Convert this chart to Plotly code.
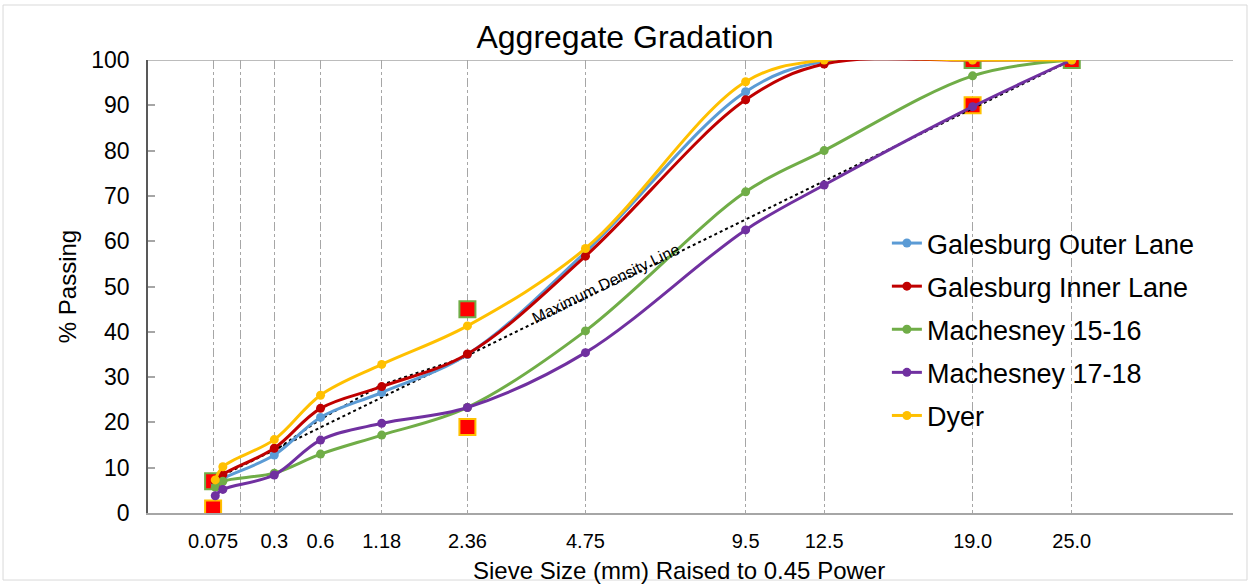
import plotly.graph_objects as go

# Sieve positions on the x axis (sieve size in mm raised to the 0.45 power)
sieve_labels = ["0.075", "", "0.3", "0.6", "1.18", "2.36", "4.75", "9.5", "12.5", "19.0", "25.0"]
sieve_x = [0.30, 0.428, 0.582, 0.795, 1.077, 1.472, 2.016, 2.754, 3.116, 3.80, 4.257]

# x positions of the gradation test points
data_x = [0.31, 0.345, 0.582, 0.795, 1.077, 1.472, 2.016, 2.754, 3.116, 3.80, 4.257]

galesburg_outer = [6.5, 7.6, 12.8, 21.1, 26.6, 35.0, 57.6, 93.0, 99.7, 100, 100]
galesburg_inner = [6.9, 8.5, 14.3, 23.1, 27.9, 35.1, 56.7, 91.2, 99.1, 100, 100]
machesney_15_16 = [5.7, 7.0, 8.8, 13.0, 17.2, 23.3, 40.2, 70.9, 80.0, 96.5, 100]
machesney_17_18 = [3.8, 5.2, 8.4, 16.1, 19.8, 23.3, 35.4, 62.5, 72.4, 89.7, 100]
dyer = [7.3, 10.2, 16.2, 26.0, 32.8, 41.3, 58.4, 95.2, 100, 100, 100]

# Control points (upper and lower limits)
ctrl_upper_x = [0.30, 1.472, 3.80, 4.257]
ctrl_upper_y = [7, 45, 100, 100]
ctrl_lower_x = [0.30, 1.472, 3.80]
ctrl_lower_y = [1, 19, 90]

# Maximum density line end points
mdl_x = [0.30, 4.257]
mdl_y = [7.3, 100]

# Upper boundary of the restricted zone
rz_x = [0.582, 0.795, 1.077, 1.472]
rz_upper = [13.7, 20.7, 28.3, 34.6]

series = [
    ("Galesburg Outer Lane", galesburg_outer, "#5B9BD5"),
    ("Galesburg Inner Lane", galesburg_inner, "#C00000"),
    ("Machesney 15-16", machesney_15_16, "#70AD47"),
    ("Machesney 17-18", machesney_17_18, "#7030A0"),
    ("Dyer", dyer, "#FFC000"),
]

FONT = "Liberation Sans, Arial, sans-serif"

fig = go.Figure()

# Control point squares sit underneath the gradation curves
fig.add_trace(go.Scatter(
    x=ctrl_upper_x, y=ctrl_upper_y, mode="markers", showlegend=False,
    marker=dict(symbol="square", size=16, color="#FF0000",
                line=dict(color="#70AD47", width=2)),
    hoverinfo="skip"))
fig.add_trace(go.Scatter(
    x=ctrl_lower_x, y=ctrl_lower_y, mode="markers", showlegend=False,
    marker=dict(symbol="square", size=16, color="#FF0000",
                line=dict(color="#FFC000", width=2)),
    hoverinfo="skip"))

# Maximum density line and restricted zone
fig.add_trace(go.Scatter(
    x=mdl_x, y=mdl_y, mode="lines", showlegend=False,
    line=dict(color="black", width=2, dash="dot"), hoverinfo="skip"))
fig.add_trace(go.Scatter(
    x=rz_x, y=rz_upper, mode="lines", showlegend=False,
    line=dict(color="black", width=2, dash="dot"), hoverinfo="skip"))

for i, (name, vals, color) in enumerate(series):
    fig.add_trace(go.Scatter(
        x=data_x, y=vals, name=name, mode="lines+markers",
        legendgroup=f"g{i}",
        line=dict(color=color, width=3, shape="spline", smoothing=1.0),
        marker=dict(color=color, size=9)))

fig.add_annotation(
    x=2.11, y=50.6, xref="x", yref="y", text="Maximum Density Line",
    showarrow=False, textangle=-26,
    font=dict(family=FONT, size=16, color="black"))

# x-axis title
fig.add_annotation(
    x=0.4894, y=-0.128, xref="paper", yref="paper",
    xanchor="center", yanchor="middle", showarrow=False,
    text="Sieve Size (mm) Raised to 0.45 Power",
    font=dict(family=FONT, size=24, color="black"))

# Chart frame and the top edge of the plot area
fig.add_shape(type="rect", xref="paper", yref="paper",
              x0=-0.1336, x1=1.0129, y0=-0.148, y1=1.1214,
              line=dict(color="#D9D9D9", width=1), layer="below")
fig.add_shape(type="line", xref="paper", yref="y", x0=0, x1=1, y0=100, y1=100,
              line=dict(color="#A6A6A6", width=1.5), layer="below")

fig.update_layout(
    width=1250, height=584, autosize=False,
    margin=dict(l=148, r=17, t=60, b=71),
    paper_bgcolor="white", plot_bgcolor="white",
    font=dict(family=FONT, color="black"),
    title=dict(text="Aggregate Gradation", x=0.5, xref="container", xanchor="center",
               y=1 - 37 / 584, yref="container", yanchor="middle",
               font=dict(family=FONT, size=32, color="black")),
    legend=dict(x=0.681, y=0.649, xanchor="left", yanchor="top",
                font=dict(family=FONT, size=27, color="black"),
                tracegroupgap=5, bgcolor="rgba(0,0,0,0)", traceorder="grouped",
                itemwidth=30),
    showlegend=True,
)

fig.update_xaxes(
    range=[0, 5], tickmode="array", tickvals=sieve_x, ticktext=sieve_labels,
    showgrid=True, gridcolor="#A6A6A6", griddash="dashdot", gridwidth=1,
    showline=True, linecolor="#A6A6A6", linewidth=1.5, ticks="",
    zeroline=False, tickfont=dict(family=FONT, size=20),
    ticklabelstandoff=9, automargin=False)

fig.update_yaxes(
    range=[0, 100], tickmode="linear", tick0=0, dtick=10,
    showgrid=False, zeroline=False,
    showline=True, linecolor="#595959", linewidth=1.5,
    ticks="inside", ticklen=7, tickcolor="#A6A6A6", tickwidth=1.5,
    tickfont=dict(family=FONT, size=23), ticklabelstandoff=12, automargin=False,
    title=dict(text="% Passing", font=dict(family=FONT, size=24), standoff=8))

fig.write_html("out.html")
